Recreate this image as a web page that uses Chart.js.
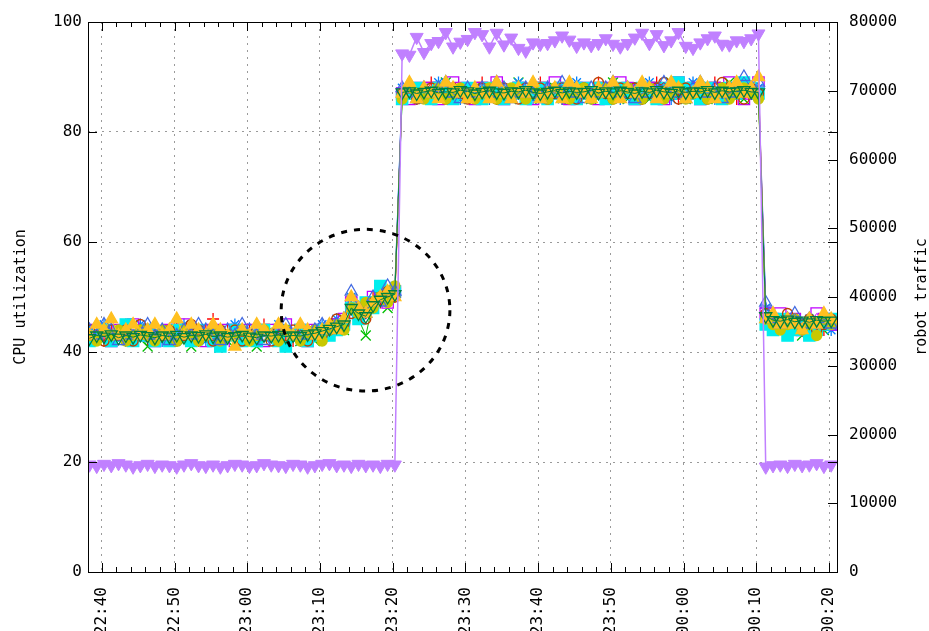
<!DOCTYPE html>
<html>
<head>
<meta charset="utf-8">
<script src="https://cdn.jsdelivr.net/npm/chart.js@4.4.0/dist/chart.umd.min.js"></script>
<style>
  html, body { margin: 0; padding: 0; background: #ffffff; }
  canvas { display: block; }
</style>
</head>
<body>
<canvas id="cpuChart" width="929" height="631"></canvas>
<script>
// sample times (one sample per minute)
var sampleTimes = [
    '22:38:18','22:39:18','22:40:18','22:41:18','22:42:18','22:43:18','22:44:18','22:45:18','22:46:18','22:47:18',
    '22:48:18','22:49:18','22:50:18','22:51:18','22:52:18','22:53:18','22:54:18','22:55:18','22:56:18','22:57:18',
    '22:58:18','22:59:18','23:00:18','23:01:18','23:02:18','23:03:18','23:04:18','23:05:18','23:06:18','23:07:18',
    '23:08:18','23:09:18','23:10:18','23:11:18','23:12:18','23:13:18','23:14:18','23:15:18','23:16:18','23:17:18',
    '23:18:18','23:19:18','23:20:18','23:21:18','23:22:18','23:23:18','23:24:18','23:25:18','23:26:18','23:27:18',
    '23:28:18','23:29:18','23:30:18','23:31:18','23:32:18','23:33:18','23:34:18','23:35:18','23:36:18','23:37:18',
    '23:38:18','23:39:18','23:40:18','23:41:18','23:42:18','23:43:18','23:44:18','23:45:18','23:46:18','23:47:18',
    '23:48:18','23:49:18','23:50:18','23:51:18','23:52:18','23:53:18','23:54:18','23:55:18','23:56:18','23:57:18',
    '23:58:18','23:59:18','00:00:18','00:01:18','00:02:18','00:03:18','00:04:18','00:05:18','00:06:18','00:07:18',
    '00:08:18','00:09:18','00:10:18','00:11:18','00:12:18','00:13:18','00:14:18','00:15:18','00:16:18','00:17:18',
    '00:18:18','00:19:18','00:20:18'
];

var xTickLabels = ['22:40','22:50','23:00','23:10','23:20','23:30','23:40','23:50','00:00','00:10','00:20'];
var xRange = ['22:38:06', '00:21:06'];
var cpuTicks = [0, 20, 40, 60, 80, 100];
var trafficTicks = [0, 10000, 20000, 30000, 40000, 50000, 60000, 70000, 80000];

// CPU utilization, one array per server
var cpu1 = [
    43,44,42,44,43,45,43,44,42,43, 44,43,45,44,43,42,44,46,43,44, 43,42,44,43,45,43,44,43,42,44, 43,44,43,45,44,46,49,47,48,50, 49,51,50,
    87,88,86,87,89,88,87,86,88,87, 88,89,87,86,88,87,88,86,87,89, 88,87,86,88,87,88,87,89,86,87, 88,87,88,86,87,89,88,87,86,88, 87,88,87,89,88,87,86,88,87,88,
    47,46,45,46,44,45,46,45,44,46
];
var cpu2 = [
    42,43,44,42,43,44,42,43,41,43, 42,44,43,42,41,43,44,42,43,42, 44,43,42,41,43,44,42,43,44,42, 43,42,44,43,45,44,48,46,43,49, 50,48,51,
    86,87,88,86,87,88,89,87,86,87, 88,86,87,88,87,86,89,88,87,86, 87,88,87,86,88,87,86,87,88,89, 87,86,88,87,86,87,88,89,87,86, 88,87,86,87,88,89,87,86,88,87,
    46,45,44,46,45,43,45,46,44,45
];
var cpu3 = [
    44,43,45,43,44,42,43,45,44,43, 42,43,44,45,43,44,42,43,44,43, 45,44,43,42,44,43,45,44,43,42, 44,43,45,44,46,45,50,48,47,49, 51,50,52,
    88,87,86,88,87,89,88,87,86,88, 87,88,86,87,88,87,89,88,86,87, 88,87,86,88,89,87,86,88,87,88, 86,87,88,87,89,88,87,86,88,87, 89,88,87,86,88,87,88,89,87,88,
    48,46,45,46,45,44,46,45,46,44
];
var cpu4 = [
    43,44,43,42,44,43,45,43,44,42, 43,44,43,45,44,43,42,44,43,44, 42,43,44,43,42,44,43,45,43,44, 42,44,43,44,45,46,49,47,48,50, 51,49,51,
    87,86,88,87,88,86,87,89,88,87, 86,88,87,89,86,87,88,87,86,88, 87,89,88,86,87,88,87,86,88,87, 89,88,86,87,88,87,86,88,89,87, 88,86,87,88,87,89,88,86,87,89,
    47,46,47,45,46,44,45,47,46,45
];
var cpu5 = [
    42,43,44,42,43,45,42,43,44,42, 43,42,44,43,42,44,43,42,41,43, 44,42,43,42,44,43,42,41,43,44, 42,43,44,43,44,45,48,46,49,48, 52,50,51,
    86,87,88,87,86,88,87,86,87,88, 87,86,88,87,86,87,88,86,87,88, 86,87,88,87,86,88,87,88,86,87, 88,87,86,88,87,86,88,87,89,88, 87,86,88,87,86,88,87,89,88,87,
    45,44,46,43,44,45,43,44,45,46
];
var cpu6 = [
    44,43,42,44,43,44,42,45,43,44, 43,44,42,43,45,44,43,42,44,43, 44,42,43,44,43,42,44,43,44,43, 42,44,43,44,46,45,47,48,46,49, 50,51,50,
    87,88,86,87,88,87,86,88,87,86, 87,88,87,86,88,87,86,88,87,88, 86,87,88,87,86,88,87,89,87,86, 88,87,88,86,87,88,89,87,86,88, 87,88,86,87,89,88,87,86,88,87,
    47,46,45,47,46,45,46,44,45,46
];
var cpu7 = [
    43,42,44,43,44,42,43,44,43,42, 44,43,42,44,43,42,43,44,42,43, 43,44,42,43,44,43,42,44,43,42, 43,44,42,44,45,44,48,47,49,48, 50,49,52,
    86,88,87,86,87,88,86,87,88,87, 86,87,88,86,87,88,87,86,88,87, 86,88,87,86,87,88,86,87,88,86, 87,88,87,86,88,87,86,87,88,86, 87,88,86,87,88,86,87,88,87,86,
    46,45,44,45,46,44,45,43,46,45
];
var cpu8 = [
    44,43,45,44,42,43,44,43,45,43, 44,42,43,44,43,45,44,43,42,44, 43,45,44,43,42,43,44,45,43,44, 43,44,45,44,45,46,51,48,47,50, 49,52,51,
    88,87,86,88,87,88,89,87,86,88, 87,88,87,89,88,86,87,88,87,86, 88,87,89,88,87,86,88,87,88,89, 87,88,86,87,88,87,89,88,87,86, 88,89,87,88,86,87,88,90,88,89,
    49,46,45,46,47,45,46,45,46,45
];
var cpu9 = [
    43,45,44,46,43,44,45,43,44,45, 43,44,46,43,45,44,43,45,44,43, 41,44,43,45,44,43,45,44,43,45, 44,43,44,45,44,46,50,48,47,49, 50,51,50,
    87,89,86,88,87,86,89,88,87,86, 88,87,86,89,87,86,88,87,89,86, 87,88,86,89,88,87,86,88,87,89, 86,88,87,89,88,86,87,89,88,86, 87,89,88,86,87,88,89,87,88,90,
    46,47,45,46,45,44,46,45,47,46
];
var cpu10 = [
    42.5,43,42.8,43.2,42.6,43,42.7,43.1,42.9,42.6, 43,42.8,43.1,42.7,43,42.9,43.2,42.8,43,42.7, 42.9,43.1,42.8,42.6,43,42.9,43.1,42.8,43,42.9, 43.2,43.4,43.8,44.2,44.6,45,48,47,46.5,48.5, 49.5,50,50.5,
    87.2,87.4,87,87.3,87.5,87.1,87.3,87.2,87.6,87.4, 87,87.3,87.5,87.2,87.1,87.4,87.3,87.6,87.2,87, 87.3,87.5,87.1,87.4,87.2,87.3,87.6,87.1,87.4,87.2, 87.5,87.3,87,87.4,87.2,87.6,87.3,87.1,87.5,87.2, 87.4,87.3,87.6,87.2,87.5,87.3,87.4,87.6,87.3,87.2,
    46.5,45.8,45.6,45.9,45.5,45.7,45.4,45.8,45.6,45.7
];

// robot traffic (right axis)
var robotTraffic = [
    15600,15400,15700,15500,15800,15600,15300,15500,15700,15400, 15600,15500,15300,15600,15800,15500,15400,15600,15300,15500,
    15700,15600,15400,15500,15800,15600,15500,15400,15700,15600, 15300,15500,15700,15800,15500,15600,15400,15700,15500,15600,
    15400,15700,15600,
    75400,75200,77800,75600,76900,77200,78500,76400,77100,77500, 78500,78200,76400,78400,76700,77700,76200,75800,77000,76800,
    76900,77300,78000,77400,76500,77000,76600,76900,77600,76800, 76400,76900,77700,78400,76900,78200,76600,77300,78500,76500,
    76200,77000,77600,78000,76800,76700,77300,77200,77600,78300,
    15300,15500,15600,15400,15700,15500,15600,15800,15400,15600
];

// dashed circle around the ramp-up
var markCenter = ['23:16:16', 47.6];
var markRadius = [11.6, 14.7];   // minutes, percent

var monoFont = "'DejaVu Sans Mono', monospace";

function toMinutes(t) {
    var p = t.split(':');
    var h = parseInt(p[0], 10);
    if (h < 12) h += 24;
    return h * 60 + parseInt(p[1], 10) + (p[2] ? parseInt(p[2], 10) / 60 : 0);
}

function pairs(values) {
    return values.map(function (v, i) { return { x: toMinutes(sampleTimes[i]), y: v }; });
}

function cpuSet(values, color, style, filled, radius, rotation) {
    return {
        data: pairs(values),
        yAxisID: 'y',
        borderColor: color,
        backgroundColor: filled ? color : 'rgba(0,0,0,0)',
        borderWidth: 1,
        pointStyle: style,
        pointRadius: radius,
        pointRotation: rotation || 0,
        pointBorderWidth: 1.3,
        pointBorderColor: color,
        pointBackgroundColor: filled ? color : 'rgba(0,0,0,0)'
    };
}

var datasets = [
    cpuSet(cpu1, '#ff0000', 'cross', false, 6),
    cpuSet(cpu2, '#00c000', 'crossRot', false, 7),
    cpuSet(cpu3, '#0080ff', 'star', false, 6),
    cpuSet(cpu4, '#c000ff', 'rect', false, 8),
    cpuSet(cpu5, '#00eeee', 'rect', true, 8),
    cpuSet(cpu6, '#c04000', 'circle', false, 5),
    cpuSet(cpu7, '#c8c800', 'circle', true, 5),
    cpuSet(cpu8, '#4169e1', 'triangle', false, 7),
    cpuSet(cpu9, '#ffc020', 'triangle', true, 7),
    cpuSet(cpu10, '#008040', 'triangle', false, 7, 180)
];
datasets.push({
    data: pairs(robotTraffic),
    yAxisID: 'y2',
    borderColor: '#c080ff',
    backgroundColor: '#c080ff',
    borderWidth: 1.5,
    pointStyle: 'triangle',
    pointRotation: 180,
    pointRadius: 7.5,
    pointBorderWidth: 1,
    pointBorderColor: '#c080ff',
    pointBackgroundColor: '#c080ff'
});
datasets.forEach(function (d, i) { d.order = -i; });

// frame, inward tick marks, right axis title and the dashed circle
var gnuplotFrame = {
    id: 'gnuplotFrame',
    afterDatasetsDraw: function (chart) {
        var ctx = chart.ctx;
        var a = chart.chartArea;
        var xs = chart.scales.x, ys = chart.scales.y, y2 = chart.scales.y2;

        // circle
        var c = toMinutes(markCenter[0]);
        var cx = xs.getPixelForValue(c);
        var cy = ys.getPixelForValue(markCenter[1]);
        var rx = xs.getPixelForValue(c + markRadius[0]) - cx;
        var ry = cy - ys.getPixelForValue(markCenter[1] + markRadius[1]);
        ctx.save();
        ctx.strokeStyle = '#000';
        ctx.lineWidth = 3;
        ctx.setLineDash([6, 7]);
        ctx.beginPath();
        ctx.ellipse(cx, cy, rx, ry, 0, 0, Math.PI * 2);
        ctx.stroke();
        ctx.restore();

        ctx.save();
        ctx.strokeStyle = '#000';
        ctx.lineWidth = 1;
        ctx.beginPath();
        // x ticks, major and minor, bottom and top
        var majors = xTickLabels.map(toMinutes);
        var minorStep = 2;
        var lo = xs.min, hi = xs.max;
        for (var m = majors[0] - 10; m <= hi; m += minorStep) {
            if (m < lo) continue;
            var px = Math.round(xs.getPixelForValue(m)) + 0.5;
            var isMajor = Math.abs((m - majors[0]) % 10) < 0.01;
            var len = isMajor ? 9 : 5;
            ctx.moveTo(px, a.bottom); ctx.lineTo(px, a.bottom - len);
            ctx.moveTo(px, a.top); ctx.lineTo(px, a.top + len);
        }
        // left ticks, mirrored on the right
        cpuTicks.forEach(function (v) {
            var py = Math.round(ys.getPixelForValue(v)) + 0.5;
            ctx.moveTo(a.left, py); ctx.lineTo(a.left + 9, py);
            ctx.moveTo(a.right, py); ctx.lineTo(a.right - 9, py);
        });
        // right axis ticks
        trafficTicks.forEach(function (v) {
            var py = Math.round(y2.getPixelForValue(v)) + 0.5;
            ctx.moveTo(a.right, py); ctx.lineTo(a.right - 9, py);
        });
        ctx.stroke();
        ctx.strokeRect(Math.round(a.left) + 0.5, Math.round(a.top) + 0.5,
            Math.round(a.right - a.left), Math.round(a.bottom - a.top));
        ctx.restore();

        // right axis title, reads bottom to top like the left one
        ctx.save();
        ctx.fillStyle = '#000';
        ctx.font = '15px ' + monoFont;
        ctx.textAlign = 'center';
        ctx.textBaseline = 'middle';
        ctx.translate(922, (a.top + a.bottom) / 2);
        ctx.rotate(-Math.PI / 2);
        ctx.fillText('robot traffic', 0, 0);
        ctx.restore();
    }
};

var gridDash = [2, 5];
var gridColor = '#9a9a9a';
var ctx = document.getElementById('cpuChart').getContext('2d');
var myChart = new Chart(ctx, {
    type: 'line',
    data: { datasets: datasets },
    plugins: [gnuplotFrame],
    options: {
        responsive: false,
        animation: false,
        devicePixelRatio: 1,
        layout: { padding: { top: 22, left: 0, right: 0, bottom: 0 } },
        plugins: { legend: { display: false }, tooltip: { enabled: false } },
        scales: {
            x: {
                type: 'linear',
                min: toMinutes(xRange[0]),
                max: toMinutes(xRange[1]),
                afterBuildTicks: function (scale) {
                    scale.ticks = xTickLabels.map(function (t) { return { value: toMinutes(t) }; });
                },
                afterFit: function (scale) { scale.height = 59; },
                ticks: {
                    autoSkip: false,
                    minRotation: 90,
                    maxRotation: 90,
                    padding: 15,
                    color: '#000',
                    font: { family: monoFont, size: 16 },
                    callback: function (value, index) { return xTickLabels[index]; }
                },
                grid: { color: gridColor, lineWidth: 1, drawTicks: false },
                border: { display: false, dash: gridDash }
            },
            y: {
                position: 'left',
                min: 0,
                max: 100,
                afterBuildTicks: function (scale) {
                    scale.ticks = cpuTicks.map(function (v) { return { value: v }; });
                },
                afterFit: function (scale) { scale.width = 88; },
                ticks: {
                    padding: 6,
                    color: '#000',
                    font: { family: monoFont, size: 16 },
                    callback: function (value) { return String(value); }
                },
                title: {
                    display: true,
                    text: 'CPU utilization',
                    color: '#000',
                    font: { family: monoFont, size: 15 },
                    padding: { top: 12, bottom: 0 }
                },
                grid: { color: gridColor, lineWidth: 1, drawTicks: false },
                border: { display: false, dash: gridDash }
            },
            y2: {
                position: 'right',
                min: 0,
                max: 80000,
                afterBuildTicks: function (scale) {
                    scale.ticks = trafficTicks.map(function (v) { return { value: v }; });
                },
                afterFit: function (scale) { scale.width = 92; },
                ticks: {
                    padding: 12,
                    color: '#000',
                    font: { family: monoFont, size: 16 },
                    callback: function (value) { return String(value); }
                },
                grid: { display: false, drawTicks: false },
                border: { display: false }
            }
        }
    }
});
</script>
</body>
</html>
